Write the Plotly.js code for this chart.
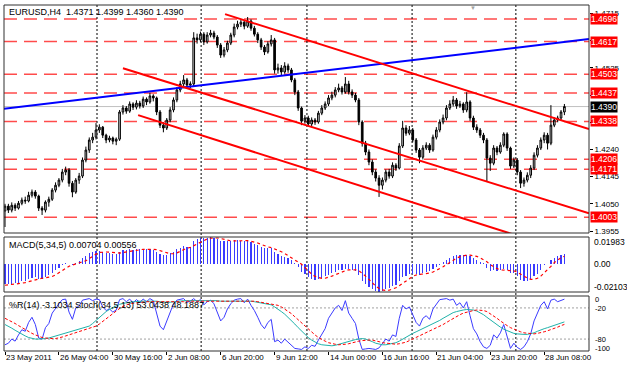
<!DOCTYPE html>
<html><head><meta charset="utf-8">
<script src="https://cdn.plot.ly/plotly-3.0.1.min.js"></script>
<style>html,body{margin:0;padding:0;background:#fff}#chart{width:627px;height:368px}</style>
</head><body><div id="chart"></div>
<script>
// ---- data (bar index 0 = 23 May 2011 00:00, H4 bars) ----
const closes = [1.4042,1.4028,1.4045,1.4035,1.4052,1.4063,1.4060,1.4080,1.4091,1.4077,
1.4035,1.4028,1.4056,1.4066,1.4098,1.4115,1.4133,1.4161,1.4168,1.4122,
1.4091,1.4133,1.4147,1.4203,1.4238,1.4273,1.4283,1.4308,1.4318,1.4290,
1.4273,1.4280,1.4269,1.4276,1.4371,1.4385,1.4374,1.4399,1.4388,1.4402,
1.4392,1.4416,1.4406,1.4427,1.4420,1.4371,1.4325,1.4315,1.4343,1.4378,
1.4413,1.4448,1.4469,1.4483,1.4465,1.4469,1.4630,1.4623,1.4643,1.4616,
1.4640,1.4647,1.4633,1.4605,1.4570,1.4588,1.4612,1.4640,1.4668,1.4678,
1.4685,1.4671,1.4689,1.4664,1.4643,1.4623,1.4598,1.4581,1.4609,1.4623,
1.4518,1.4525,1.4511,1.4532,1.4518,1.4483,1.4441,1.4385,1.4339,1.4350,
1.4329,1.4343,1.4336,1.4367,1.4385,1.4399,1.4420,1.4430,1.4448,1.4455,
1.4441,1.4469,1.4441,1.4430,1.4413,1.4336,1.4262,1.4231,1.4196,1.4161,
1.4140,1.4115,1.4133,1.4161,1.4147,1.4185,1.4175,1.4252,1.4315,1.4297,
1.4308,1.4273,1.4238,1.4213,1.4245,1.4255,1.4238,1.4283,1.4308,1.4336,
1.4350,1.4385,1.4399,1.4413,1.4392,1.4399,1.4378,1.4406,1.4350,1.4318,
1.4308,1.4290,1.4273,1.4210,1.4192,1.4245,1.4231,1.4255,1.4294,1.4245,
1.4182,1.4203,1.4161,1.4122,1.4133,1.4150,1.4175,1.4220,1.4245,1.4273,
1.4290,1.4262,1.4325,1.4343,1.4350,1.4371,1.4390];
const opens = [1.4025,1.4042,1.4028,1.4045,1.4035,1.4052,1.4063,1.4060,1.4080,1.4091,
1.4077,1.4035,1.4028,1.4056,1.4066,1.4098,1.4115,1.4133,1.4161,1.4168,
1.4122,1.4091,1.4133,1.4147,1.4203,1.4238,1.4273,1.4283,1.4308,1.4318,
1.4290,1.4273,1.4280,1.4269,1.4276,1.4371,1.4385,1.4374,1.4399,1.4388,
1.4402,1.4392,1.4416,1.4406,1.4427,1.4420,1.4371,1.4325,1.4315,1.4343,
1.4378,1.4413,1.4448,1.4469,1.4483,1.4465,1.4469,1.4630,1.4623,1.4643,
1.4616,1.4640,1.4647,1.4633,1.4605,1.4570,1.4588,1.4612,1.4640,1.4668,
1.4678,1.4685,1.4671,1.4689,1.4664,1.4643,1.4623,1.4598,1.4581,1.4609,
1.4623,1.4518,1.4525,1.4511,1.4532,1.4518,1.4483,1.4441,1.4385,1.4339,
1.4350,1.4329,1.4343,1.4336,1.4367,1.4385,1.4399,1.4420,1.4430,1.4448,
1.4455,1.4441,1.4469,1.4441,1.4430,1.4413,1.4336,1.4262,1.4231,1.4196,
1.4161,1.4140,1.4115,1.4133,1.4161,1.4147,1.4185,1.4175,1.4252,1.4315,
1.4297,1.4308,1.4273,1.4238,1.4213,1.4245,1.4255,1.4238,1.4283,1.4308,
1.4336,1.4350,1.4385,1.4399,1.4413,1.4392,1.4399,1.4378,1.4406,1.4350,
1.4318,1.4308,1.4290,1.4273,1.4210,1.4192,1.4245,1.4231,1.4255,1.4294,
1.4245,1.4182,1.4203,1.4161,1.4122,1.4133,1.4150,1.4175,1.4220,1.4245,
1.4273,1.4290,1.4262,1.4325,1.4343,1.4350,1.4371];
const highs = [1.4050,1.4050,1.4055,1.4052,1.4060,1.4072,1.4075,1.4092,1.4100,1.4098,
1.4082,1.4042,1.4062,1.4075,1.4105,1.4125,1.4140,1.4172,1.4180,1.4175,
1.4130,1.4140,1.4158,1.4212,1.4250,1.4282,1.4298,1.4332,1.4328,1.4322,
1.4295,1.4288,1.4285,1.4282,1.4378,1.4395,1.4392,1.4408,1.4405,1.4412,
1.4410,1.4425,1.4422,1.4438,1.4433,1.4425,1.4378,1.4335,1.4350,1.4388,
1.4422,1.4458,1.4480,1.4500,1.4490,1.4478,1.4650,1.4645,1.4652,1.4650,
1.4650,1.4658,1.4655,1.4640,1.4612,1.4598,1.4620,1.4648,1.4680,1.4690,
1.4696,1.4692,1.4703,1.4695,1.4672,1.4650,1.4630,1.4605,1.4618,1.4640,
1.4630,1.4540,1.4535,1.4545,1.4540,1.4525,1.4490,1.4448,1.4390,1.4360,
1.4358,1.4352,1.4350,1.4375,1.4395,1.4408,1.4430,1.4442,1.4458,1.4470,
1.4462,1.4493,1.4480,1.4450,1.4438,1.4420,1.4342,1.4270,1.4240,1.4205,
1.4170,1.4150,1.4142,1.4170,1.4172,1.4195,1.4192,1.4262,1.4340,1.4325,
1.4322,1.4315,1.4280,1.4245,1.4255,1.4265,1.4262,1.4292,1.4318,1.4345,
1.4362,1.4395,1.4412,1.4427,1.4420,1.4410,1.4405,1.4440,1.4412,1.4358,
1.4328,1.4315,1.4298,1.4280,1.4220,1.4255,1.4252,1.4265,1.4300,1.4300,
1.4250,1.4212,1.4210,1.4168,1.4142,1.4160,1.4185,1.4230,1.4255,1.4282,
1.4300,1.4298,1.4395,1.4352,1.4358,1.4378,1.4399];
const lows = [1.3969,1.4018,1.4020,1.4025,1.4030,1.4045,1.4050,1.4055,1.4072,1.4068,
1.4025,1.4011,1.4020,1.4040,1.4060,1.4090,1.4108,1.4125,1.4150,1.4110,
1.4073,1.4085,1.4120,1.4140,1.4195,1.4228,1.4262,1.4275,1.4298,1.4280,
1.4262,1.4265,1.4258,1.4255,1.4270,1.4362,1.4365,1.4368,1.4378,1.4380,
1.4383,1.4385,1.4395,1.4400,1.4408,1.4360,1.4315,1.4300,1.4308,1.4335,
1.4370,1.4405,1.4440,1.4460,1.4455,1.4455,1.4460,1.4610,1.4615,1.4605,
1.4610,1.4632,1.4625,1.4595,1.4560,1.4562,1.4580,1.4605,1.4632,1.4660,
1.4668,1.4660,1.4665,1.4655,1.4635,1.4612,1.4588,1.4570,1.4575,1.4600,
1.4505,1.4505,1.4500,1.4505,1.4508,1.4475,1.4430,1.4375,1.4325,1.4330,
1.4320,1.4322,1.4326,1.4330,1.4360,1.4378,1.4392,1.4412,1.4422,1.4440,
1.4432,1.4435,1.4432,1.4420,1.4405,1.4325,1.4250,1.4220,1.4185,1.4150,
1.4128,1.4074,1.4100,1.4125,1.4138,1.4140,1.4165,1.4170,1.4245,1.4288,
1.4290,1.4265,1.4228,1.4192,1.4205,1.4238,1.4228,1.4232,1.4275,1.4300,
1.4328,1.4342,1.4378,1.4390,1.4382,1.4385,1.4368,1.4370,1.4340,1.4308,
1.4298,1.4280,1.4262,1.4127,1.4165,1.4185,1.4220,1.4225,1.4248,1.4235,
1.4172,1.4175,1.4150,1.4105,1.4110,1.4125,1.4140,1.4168,1.4212,1.4238,
1.4262,1.4240,1.4255,1.4318,1.4335,1.4340,1.4360];

const macdHist = [-0.0150,-0.0152,-0.0148,-0.0145,-0.0140,-0.0132,-0.0125,-0.0115,-0.0105,-0.0100,
-0.0110,-0.0112,-0.0098,-0.0085,-0.0068,-0.0050,-0.0032,-0.0012,0.0002,-0.0002,
-0.0008,0.0005,0.0018,0.0040,0.0060,0.0076,0.0085,0.0092,0.0094,0.0088,
0.0080,0.0078,0.0074,0.0072,0.0090,0.0100,0.0100,0.0106,0.0104,0.0108,
0.0106,0.0110,0.0106,0.0108,0.0104,0.0090,0.0072,0.0064,0.0068,0.0078,
0.0090,0.0106,0.0118,0.0128,0.0126,0.0126,0.0170,0.0180,0.0190,0.0188,
0.0194,0.0198,0.0192,0.0182,0.0168,0.0165,0.0166,0.0170,0.0175,0.0174,
0.0172,0.0166,0.0166,0.0158,0.0148,0.0138,0.0126,0.0116,0.0118,0.0116,
0.0086,0.0070,0.0056,0.0050,0.0040,0.0024,0.0002,-0.0028,-0.0060,-0.0080,
-0.0100,-0.0110,-0.0118,-0.0112,-0.0104,-0.0094,-0.0082,-0.0070,-0.0058,-0.0048,
-0.0046,-0.0036,-0.0040,-0.0046,-0.0055,-0.0085,-0.0125,-0.0150,-0.0172,-0.0190,
-0.0200,-0.0210,-0.0204,-0.0190,-0.0182,-0.0165,-0.0155,-0.0130,-0.0100,-0.0088,
-0.0078,-0.0076,-0.0080,-0.0082,-0.0070,-0.0060,-0.0056,-0.0040,-0.0024,-0.0006,
0.0010,0.0030,0.0045,0.0058,0.0062,0.0066,0.0064,0.0068,0.0058,0.0042,
0.0030,0.0016,0.0002,-0.0030,-0.0052,-0.0050,-0.0052,-0.0048,-0.0036,-0.0044,
-0.0068,-0.0072,-0.0092,-0.0118,-0.0128,-0.0126,-0.0116,-0.0094,-0.0074,-0.0050,
-0.0010,0.0000,0.0030,0.0045,0.0060,0.0063,0.00704];
const macdSignal = [-0.0160,-0.0158,-0.0155,-0.0152,-0.0148,-0.0145,-0.0140,-0.0133,-0.0125,-0.0117,
-0.0111,-0.0108,-0.0105,-0.0101,-0.0095,-0.0083,-0.0067,-0.0050,-0.0032,-0.0019,
-0.0010,-0.0003,0.0003,0.0011,0.0022,0.0038,0.0056,0.0071,0.0083,0.0087,
0.0087,0.0086,0.0083,0.0078,0.0079,0.0083,0.0087,0.0094,0.0100,0.0104,
0.0105,0.0107,0.0107,0.0108,0.0107,0.0104,0.0096,0.0087,0.0080,0.0074,
0.0074,0.0080,0.0092,0.0104,0.0115,0.0121,0.0134,0.0146,0.0158,0.0171,
0.0184,0.0190,0.0192,0.0191,0.0187,0.0180,0.0175,0.0170,0.0169,0.0170,
0.0171,0.0171,0.0171,0.0167,0.0162,0.0154,0.0143,0.0133,0.0125,0.0119,
0.0110,0.0101,0.0089,0.0076,0.0060,0.0048,0.0034,0.0018,-0.0004,-0.0028,
-0.0054,-0.0078,-0.0094,-0.0104,-0.0109,-0.0108,-0.0102,-0.0092,-0.0082,-0.0070,
-0.0061,-0.0052,-0.0046,-0.0043,-0.0045,-0.0052,-0.0070,-0.0092,-0.0117,-0.0144,
-0.0167,-0.0184,-0.0195,-0.0199,-0.0197,-0.0188,-0.0179,-0.0164,-0.0146,-0.0128,
-0.0111,-0.0094,-0.0084,-0.0081,-0.0077,-0.0073,-0.0069,-0.0062,-0.0050,-0.0037,
-0.0023,-0.0007,0.0011,0.0027,0.0041,0.0052,0.0059,0.0064,0.0064,0.0060,
0.0054,0.0043,0.0030,0.0014,-0.0007,-0.0023,-0.0036,-0.0046,-0.0048,-0.0046,
-0.0050,-0.0054,-0.0062,-0.0079,-0.0096,-0.0107,-0.0116,-0.0116,-0.0108,-0.0092,
-0.0068,-0.0046,-0.0020,0.0008,0.0030,0.0045,0.00556];

const williamsR = [-91,-88,-80,-84,-72,-62,-65,-48,-38,-52,
-78,-80,-58,-50,-30,-20,-12,-4,-3,-28,
-42,-20,-16,-5,-3,-2,-6,-3,-4,-18,
-25,-22,-28,-24,-4,-2,-8,-3,-10,-4,
-9,-3,-8,-2,-6,-30,-55,-62,-45,-28,
-12,-5,-3,-2,-9,-7,-2,-8,-4,-14,
-8,-5,-12,-30,-45,-38,-22,-12,-5,-3,
-2,-10,-3,-15,-25,-38,-52,-60,-48,-42,
-85,-82,-88,-80,-86,-92,-98,-99,-100,-95,
-98,-92,-94,-82,-72,-60,-40,-30,-20,-15,
-25,-6,-30,-40,-50,-80,-100,-99,-98,-99,
-100,-97,-88,-80,-84,-72,-75,-40,-15,-22,
-18,-35,-48,-55,-40,-35,-42,-22,-12,-4,
-3,-2,-5,-3,-15,-10,-20,-8,-35,-60,
-70,-85,-95,-98,-92,-72,-78,-68,-52,-75,
-98,-88,-96,-100,-95,-85,-70,-45,-30,-15,
-8,-22,-5,-3,-8,-6,-3.1034];
const stochMain = [48,45,41,37,33,29,26,23,21,20,
20,20,21,22,24,26,28,30,32,34,
35,37,39,41,43,45,50,56,62,68,
73,77,81,84,87,89,90,91,92,92,
93,93,93,94,94,93,92,91,91,91,
92,93,93,94,94,94,95,95,95,95,
95,95,95,94,93,93,93,93,94,94,
94,94,94,93,92,91,90,88,87,86,
82,78,73,68,62,56,49,42,35,29,
23,18,14,11,9,8,7,7,8,10,
12,14,16,18,19,20,21,20,18,15,
12,10,9,9,10,11,13,16,20,24,
28,31,34,37,40,43,46,49,52,56,
60,64,68,71,73,75,76,77,77,76,
74,71,67,62,57,52,47,43,39,36,
33,31,30,29,29,29,30,32,35,38,
40,42,44,46,49,51,53.0438];
const stochSignal = [60,57,54,50,46,42,38,34,31,28,
25,23,22,21,21,21,22,24,26,28,
30,32,34,36,38,40,42,45,49,54,
60,65,70,75,79,83,86,88,89,90,
91,91,92,92,92,92,92,92,91,91,
91,91,92,92,93,93,93,94,94,94,
94,94,94,94,94,93,93,93,93,93,
93,93,93,93,93,92,91,90,89,88,
87,85,82,78,74,69,63,57,51,45,
39,33,28,23,19,16,13,11,10,9,
9,10,11,13,14,16,17,18,18,18,
17,15,13,12,11,10,10,11,12,14,
17,20,24,27,30,33,36,39,42,45,
48,52,56,60,64,67,70,72,74,75,
76,76,75,73,69,65,60,55,50,46,
42,39,36,34,32,31,30,30,31,32,
34,36,38,41,43,46,48.1887];

// trend lines drawn on the chart: [bar index], [price]
const blueLineX = [-0.3, 173.3], blueLineY = [1.4382, 1.4626];
const redTopX = [65.3, 173.3], redTopY = [1.4713, 1.4311];
const redMidX = [35.0, 173.3], redMidY = [1.4524, 1.4017];
const redLowX = [39.5, 173.3], redLowY = [1.4360, 1.3859];

const levels = [1.4696, 1.4617, 1.4503, 1.4437, 1.4338, 1.4206, 1.4171, 1.4003];
const bidPrice = 1.4390;
const priceTicks = [1.3955, 1.4050, 1.4145, 1.4240, 1.4335, 1.4430, 1.4525, 1.4620, 1.4715];
const priceTickText = ['1.3955', '1.4050', '1.4145', '1.4240', '', '', '1.4525', '', '1.4715'];
const timeTickIdx = [0, 16, 32, 48, 64, 80, 96, 112, 128, 144, 160];
const timeTickText = ['23 May 2011','26 May 04:00','30 May 16:00','2 Jun 08:00','6 Jun 20:00','9 Jun 12:00','14 Jun 00:00','16 Jun 16:00','21 Jun 04:00','23 Jun 20:00','28 Jun 08:00'];
const gridIdx = [27.3, 58.2, 89.6, 120.8, 151.6];

const idx = closes.map((_, i) => i);

// ---- layout helpers (pixel -> paper) ----
const W = 627, H = 368, ML = 4, MR = 38, MT = 5, MB = 17;
const PW = W - ML - MR, PH = H - MT - MB;
const px = x => (x - ML) / PW;
const py = y => (MT + PH - y) / PH;
const mainDom = [py(233), py(5)];
const macdDom = [py(292), py(237)];
const stoDom = [py(351), py(296)];
const FONT = 'Liberation Sans, Arial, sans-serif';
const FS = 9;

const traces = [
  {type:'candlestick', x: idx, open: opens, high: highs, low: lows, close: closes,
   xaxis:'x', yaxis:'y', hoverinfo:'skip', whiskerwidth: 0,
   increasing:{line:{color:'#000', width:1}, fillcolor:'#d0d0d0'},
   decreasing:{line:{color:'#000', width:1}, fillcolor:'#000'}},
  {type:'scatter', mode:'lines', x: blueLineX, y: blueLineY, yaxis:'y', line:{color:'#0000ff', width:2}},
  {type:'scatter', mode:'lines', x: redTopX, y: redTopY, yaxis:'y', line:{color:'#ff0000', width:2}},
  {type:'scatter', mode:'lines', x: redMidX, y: redMidY, yaxis:'y', line:{color:'#ff0000', width:2}},
  {type:'scatter', mode:'lines', x: redLowX, y: redLowY, yaxis:'y', line:{color:'#ff0000', width:2}},
  {type:'bar', x: idx, y: macdHist, yaxis:'y2', width: 0.35, marker:{color:'#3b3bff', line:{width:0}}},
  {type:'scatter', mode:'lines', x: idx, y: macdSignal, yaxis:'y2', line:{color:'#ff0000', width:1.2, dash:'dot'}},
  {type:'scatter', mode:'lines', x: idx, y: stochMain, yaxis:'y4', line:{color:'#20b2aa', width:1}},
  {type:'scatter', mode:'lines', x: idx, y: stochSignal, yaxis:'y4', line:{color:'#ff0000', width:1, dash:'3px,2px'}},
  {type:'scatter', mode:'lines', x: idx, y: williamsR, yaxis:'y3', line:{color:'#3b3bff', width:1}}
];

const shapes = [];
levels.forEach(v => shapes.push({type:'line', xref:'paper', x0:0, x1:1, yref:'y', y0:v, y1:v,
  line:{color:'rgba(255,30,30,0.8)', width:1.5, dash:'13px,7px'}, layer:'below'}));
shapes.push({type:'line', xref:'paper', x0:0, x1:1, yref:'y', y0:bidPrice, y1:bidPrice,
  line:{color:'#c0c0c0', width:1}, layer:'below'});
gridIdx.forEach(g => shapes.push({type:'line', xref:'x', x0:g, x1:g, yref:'paper', y0:0, y1:1,
  line:{color:'#000', width:1, dash:'2px,2px'}, layer:'below'}));
[-20, -80].forEach(v => shapes.push({type:'line', xref:'paper', x0:0, x1:1, yref:'y3', y0:v, y1:v,
  line:{color:'#a0a0a0', width:1, dash:'2px,2px'}, layer:'below'}));
[mainDom, macdDom, stoDom].forEach(d => shapes.push({type:'rect', xref:'paper', x0:0, x1:1, yref:'paper', y0:d[0], y1:d[1],
  line:{color:'#303030', width:1}, fillcolor:'rgba(0,0,0,0)'}));

const ann = [];
const txt = (x, y, t, opts) => ann.push(Object.assign({xref:'paper', yref:'paper', x: px(x), y: py(y), text: t,
  showarrow:false, xanchor:'left', yanchor:'middle', font:{family:FONT, size:FS, color:'#000'}}, opts||{}));
txt(7, 12, 'EURUSD,H4  1.4371 1.4399 1.4360 1.4390');
txt(7, 245, 'MACD(5,34,5) 0.00704 0.00556');
txt(7, 305, '%R(14) -3.1034 Stoch(34,5,13) 53.0438 48.1887');
levels.forEach(v => ann.push({xref:'paper', yref:'y', x: px(590), y: v, text: v.toFixed(4), showarrow:false,
  xanchor:'left', yanchor:'middle', bgcolor:'#ff0000', borderpad:0, font:{family:FONT, size:8.5, color:'#fff'}}));
ann.push({xref:'paper', yref:'y', x: px(590), y: bidPrice, text: bidPrice.toFixed(4), showarrow:false,
  xanchor:'left', yanchor:'middle', bgcolor:'#000', borderpad:0, font:{family:FONT, size:8.5, color:'#fff'}});
txt(592, 242, '0.01983', {font:{family:FONT, size:8.5, color:'#000'}});
txt(592, 264, '0.00', {font:{family:FONT, size:8.5, color:'#000'}});
txt(592, 287, '-0.02103', {font:{family:FONT, size:8.5, color:'#000'}});
const sf = {font:{family:FONT, size:7.5, color:'#000'}};
txt(593, 299, '0', sf); txt(593, 308, '-20', sf); txt(593, 339, '-80', sf); txt(593, 348, '-100', sf);
timeTickIdx.forEach((t, k) => ann.push({xref:'x', yref:'paper', x: t, y: py(357), text: timeTickText[k], showarrow:false,
  xanchor:'left', yanchor:'middle', xshift:-1, font:{family:FONT, size:8, color:'#000'}}));
txt(468, 8, '▼', {font:{family:FONT, size:6, color:'#a0a0a0'}});

const layout = {
  width: W, height: H, margin:{l:ML, r:MR, t:MT, b:MB}, paper_bgcolor:'#fff', plot_bgcolor:'#fff',
  showlegend:false, bargap:0, boxgap:0.3,
  xaxis:{range:[-0.3, 173.3], anchor:'y3', showgrid:false, zeroline:false, rangeslider:{visible:false},
    tickmode:'array', tickvals: timeTickIdx, showticklabels:false, ticks:'outside', ticklen:3, tickcolor:'#000', showline:false},
  yaxis:{domain: mainDom, range:[1.3948, 1.4745], side:'right', anchor:'x', showgrid:false, zeroline:false,
    tickmode:'array', tickvals: priceTicks, ticktext: priceTickText, ticks:'outside', ticklen:3,
    tickcolor:'#000', tickfont:{family:FONT, size:8, color:'#000'}},
  yaxis2:{domain: macdDom, range:[-0.02103, 0.01983], side:'right', anchor:'x', showgrid:false, zeroline:false, showticklabels:false, ticks:''},
  yaxis3:{domain: stoDom, range:[-103, 3], side:'right', anchor:'x', showgrid:false, zeroline:false, showticklabels:false, ticks:''},
  yaxis4:{overlaying:'y3', range:[-3, 103], side:'right', anchor:'x', showgrid:false, zeroline:false, showticklabels:false, ticks:''},
  shapes: shapes, annotations: ann
};
Plotly.newPlot('chart', traces, layout, {staticPlot:true, displayModeBar:false});
</script></body></html>
